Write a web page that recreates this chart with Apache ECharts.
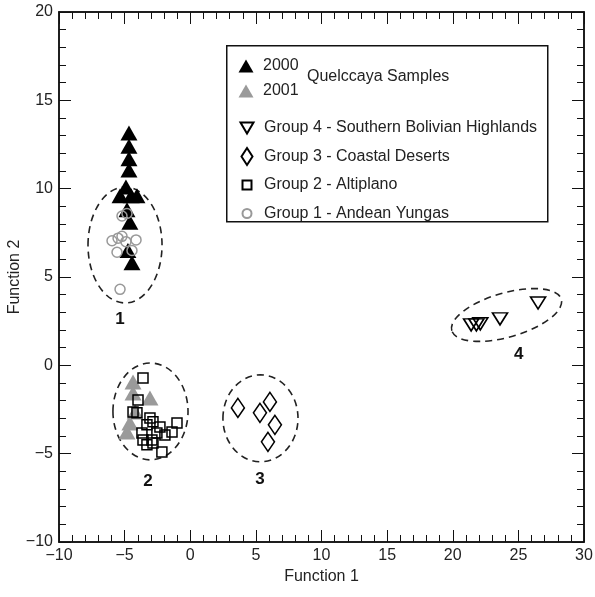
<!DOCTYPE html>
<html>
<head>
<meta charset="utf-8">
<script src="https://cdn.jsdelivr.net/npm/echarts@6/dist/echarts.min.js"></script>
<style>
html,body{margin:0;padding:0;background:#fff;}
#chart{width:595px;height:597px;}
</style>
</head>
<body>
<div id="chart"></div>
<script>
// ---- data ----
const xTicks = [-10, -5, 0, 5, 10, 15, 20, 25, 30];
const yTicks = [-10, -5, 0, 5, 10, 15, 20];

const samples2000 = [[-4.67,13.15],[-4.67,12.4],[-4.67,11.7],[-4.67,11.05],[-4.9,10.1],[-5.35,9.6],[-4.5,9.6],[-4.06,9.6],[-4.6,8.1],[-4.82,8.8],[-4.75,6.5],[-4.44,5.8]];
const samples2001 = [[-4.36,-0.94],[-4.36,-1.56],[-3.07,-1.85],[-4.2,-2.64],[-4.6,-3.26],[-4.82,-3.77]];
const group1 = [[-4.82,8.6],[-5.2,8.45],[-5.96,7.05],[-5.5,7.2],[-5.2,7.3],[-4.9,7.0],[-4.13,7.1],[-5.58,6.4],[-4.44,6.5],[-5.35,4.3]];
const group2 = [[-3.6,-0.71],[-3.98,-1.96],[-4.36,-2.64],[-4.06,-2.69],[-3.07,-2.98],[-2.84,-3.2],[-3.3,-3.37],[-2.31,-3.49],[-1.01,-3.26],[-1.39,-3.77],[-1.93,-3.94],[-2.54,-3.83],[-3.68,-3.83],[-3.6,-4.22],[-2.92,-4.22],[-3.3,-4.5],[-2.84,-4.39],[-2.16,-4.9]];
const group3 = [[3.63,-2.41],[5.31,-2.69],[6.07,-2.07],[6.45,-3.37],[5.92,-4.33]];
const group4 = [[21.4,2.29],[21.8,2.29],[22.1,2.35],[23.6,2.63],[26.5,3.53]];

// cluster ellipses: [centerX, centerY, radiusX, radiusY, tiltDeg]
const clusterEllipses = [[-4.97,6.81,2.82,3.28,0],[-3.03,-2.61,2.86,2.74,0],[5.35,-3.0,2.86,2.46,0],[24.1,2.85,4.34,1.25,16]];
// cluster labels: [x, y, text]
const clusterLabels = [[-5.35,2.6,'1'],[-3.22,-6.55,'2'],[5.31,-6.45,'3'],[25.03,0.6,'4']];

const legendTop = ['2000','2001'];
const legendGroups = ['Group 4 - Southern Bolivian Highlands','Group 3 - Coastal Deserts','Group 2 - Altiplano','Group 1 - Andean Yungas'];

const FONT = "'Liberation Sans',Arial,sans-serif";
const minus = v => String(v).replace('-', '\u2212');

// legend icons drawn in a 24x20 box (the leading moves fix the box)
const BOX = 'path://M0,0M24,20';
const icons = {
  up: BOX + 'M4.5,16.5L19.5,16.5L12,3.5Z',
  down: BOX + 'M5.5,4.5L18.5,4.5L12,15.5Z',
  diamond: BOX + 'M12,1.5L17.5,10L12,18.5L6.5,10Z',
  square: BOX + 'M7.5,5.5L16.5,5.5L16.5,14.5L7.5,14.5Z',
  circle: BOX + 'M7.5,10A4.5,4.5,0,1,1,16.5,10A4.5,4.5,0,1,1,7.5,10Z'
};

const chart = echarts.init(document.getElementById('chart'), null, {renderer:'canvas'});

const hollow = (c, w) => ({color:'rgba(0,0,0,0)', borderColor:c, borderWidth:w, opacity:1});
const legendText = {fontFamily:FONT, fontSize:16, color:'#222'};
const tickStyle = {inside:true, length:12, lineStyle:{color:'#111', width:1}};
const minorStyle = {show:true, splitNumber:5, length:7, lineStyle:{color:'#111', width:1}};

const option = {
  backgroundColor:'#fff',
  animation:false,
  textStyle:{fontFamily:FONT},
  grid:{left:59, right:11, top:12, bottom:55, containLabel:false, outerBoundsMode:'none',
        show:true, borderColor:'#111', borderWidth:1.5, backgroundColor:'transparent'},
  xAxis:[{
    type:'value', min:xTicks[0], max:xTicks[xTicks.length-1], interval:5, position:'bottom',
    name:'Function 1', nameLocation:'middle', nameGap:27, nameMoveOverlap:false,
    nameTextStyle:{fontFamily:FONT, fontSize:16, color:'#222'},
    axisLine:{onZero:false, lineStyle:{color:'#111', width:1.5}},
    axisTick:tickStyle, minorTick:minorStyle,
    splitLine:{show:false},
    axisLabel:{fontFamily:FONT, fontSize:16, color:'#222', margin:6, formatter:minus}
  },{
    type:'value', min:xTicks[0], max:xTicks[xTicks.length-1], interval:5, position:'top',
    axisLine:{onZero:false, lineStyle:{color:'#111', width:1.5}},
    axisTick:tickStyle, minorTick:minorStyle, splitLine:{show:false}, axisLabel:{show:false}
  }],
  yAxis:[{
    type:'value', min:yTicks[0], max:yTicks[yTicks.length-1], interval:5, position:'left',
    name:'Function 2', nameLocation:'middle', nameGap:36, nameRotate:90, nameMoveOverlap:false,
    nameTextStyle:{fontFamily:FONT, fontSize:16, color:'#222'},
    axisLine:{onZero:false, lineStyle:{color:'#111', width:1.5}},
    axisTick:tickStyle, minorTick:minorStyle,
    splitLine:{show:false},
    axisLabel:{fontFamily:FONT, fontSize:16, color:'#222', margin:6, formatter:minus}
  },{
    type:'value', min:yTicks[0], max:yTicks[yTicks.length-1], interval:5, position:'right',
    axisLine:{onZero:false, lineStyle:{color:'#111', width:1.5}},
    axisTick:tickStyle, minorTick:minorStyle, splitLine:{show:false}, axisLabel:{show:false}
  }],
  legend:[
    {data:[{name:legendTop[0], icon:icons.up},{name:legendTop[1], icon:icons.up}],
     orient:'vertical', left:234, top:56, itemGap:5, itemWidth:24, itemHeight:20,
     textStyle:legendText, selectedMode:false, padding:0},
    {data:[{name:legendGroups[0], icon:icons.down},{name:legendGroups[1], icon:icons.diamond},
           {name:legendGroups[2], icon:icons.square},{name:legendGroups[3], icon:icons.circle}],
     orient:'vertical', left:234, top:117, itemGap:6.5, itemWidth:24, itemHeight:20,
     textStyle:legendText, selectedMode:false, padding:0}
  ],
  graphic:[
    {type:'rect', left:226, top:45, shape:{width:321, height:176}, style:{fill:'#fff', stroke:'#111', lineWidth:1.5}, z:1},
    {type:'text', left:307, top:69, style:{text:'Quelccaya Samples', fontFamily:FONT, fontSize:16, fill:'#222'}, z:2}
  ],
  series:[
    {name:'2000', type:'scatter', data:samples2000, symbol:'triangle', symbolSize:[17,15], itemStyle:{color:'#000', opacity:1}, z:3},
    {name:'2001', type:'scatter', data:samples2001, symbol:'triangle', symbolSize:[17,15], itemStyle:{color:'#9a9a9a', opacity:1}, z:3},
    {name:'Group 1 - Andean Yungas', type:'scatter', data:group1, symbol:'circle', symbolSize:10, itemStyle:hollow('#999',1.5), z:4},
    {name:'Group 2 - Altiplano', type:'scatter', data:group2, symbol:'rect', symbolSize:10, itemStyle:hollow('#000',1.5), z:4},
    {name:'Group 3 - Coastal Deserts', type:'scatter', data:group3, symbol:'diamond', symbolSize:[13,19], itemStyle:hollow('#000',1.6), z:4},
    {name:'Group 4 - Southern Bolivian Highlands', type:'scatter', data:group4, symbol:'path://M0,0L10,0L5,8.5Z', symbolSize:[15,12], itemStyle:hollow('#000',1.6), z:4},
    {
      name:'ellipses', type:'custom', data:clusterEllipses, silent:true, z:2,
      renderItem:function(params, api){
        const c = api.coord([api.value(0), api.value(1)]);
        const s = api.size([api.value(2), api.value(3)]);
        return {type:'ellipse', x:c[0], y:c[1], rotation:api.value(4)*Math.PI/180,
          shape:{cx:0, cy:0, rx:s[0], ry:s[1]},
          style:{fill:'none', stroke:'#222', lineWidth:1.6, lineDash:[7,5]}};
      }
    },
    {
      name:'labels', type:'custom', data:clusterLabels, silent:true, z:2,
      renderItem:function(params, api){
        const c = api.coord([api.value(0), api.value(1)]);
        return {type:'text', x:c[0], y:c[1],
          style:{text:clusterLabels[params.dataIndex][2], fontFamily:FONT, fontWeight:'bold', fontSize:17, fill:'#111', align:'center', verticalAlign:'middle'}};
      }
    }
  ]
};
chart.setOption(option);
</script>
</body>
</html>
